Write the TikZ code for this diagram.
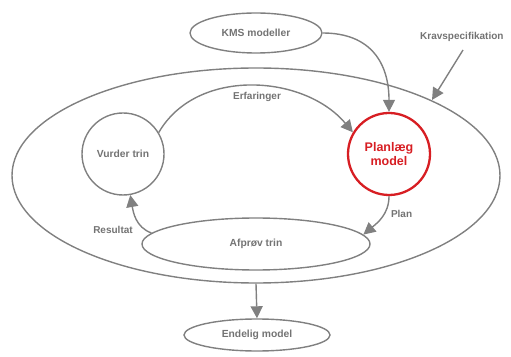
\documentclass[tikz,border=0pt]{standalone}
\usepackage{fontspec}
\setmainfont{Liberation Sans}
\usetikzlibrary{shapes.geometric,arrows.meta}
\definecolor{lgray}{RGB}{128,128,128}
\definecolor{tgray}{RGB}{115,115,115}
\definecolor{pred}{RGB}{215,30,35}
\tikzset{
  line/.style={draw=lgray, line width=1.4pt},
  oval/.style={line, ellipse, inner sep=0pt, font=\fontsize{10.3}{12}\selectfont\bfseries, text=tgray},
  circ/.style={line, circle, inner sep=0pt, minimum size=82pt, font=\fontsize{10.3}{12}\selectfont\bfseries, text=tgray},
  arr/.style={line, -{Triangle[length=12pt,width=12pt]}},
  lbl/.style={font=\fontsize{10}{12}\selectfont\bfseries, text=tgray}
}
\begin{document}
\begin{tikzpicture}[x=1pt,y=1pt]
\useasboundingbox (0,0) rectangle (511,356);
\node[oval, minimum width=488pt, minimum height=215pt] (big) at (256,180.5) {};
\node[oval, minimum width=132pt, minimum height=40pt] (kms) at (256,323) {KMS modeller};
\node[circ, draw=pred, line width=2.3pt, text=pred, font=\fontsize{12.5}{14.5}\selectfont\bfseries, align=center] (plan) at (389,202) {Planlæg\\model};
\node[circ] (vurder) at (123,202) {Vurder trin};
\node[oval, minimum width=228pt, minimum height=52pt] (afprov) at (256,112) {Afprøv trin};
\node[oval, minimum width=146pt, minimum height=32pt] (endelig) at (257,21) {Endelig model};
\node[lbl, anchor=west, inner sep=0pt] (krav) at (420,319) {Kravspecifikation};
\coordinate (kravstart) at (463,306);
\coordinate (kravtip) at (432,256);
\draw[arr] (kms.east) to[out=0,in=90,looseness=1.2] (plan.north);
\draw[arr] (kravstart) -- (kravtip);
\draw[arr] (vurder.31) to[out=60,in=130] (plan.149);
\node[lbl] (erf) at (257,259) {Erfaringer};
\draw[arr] (plan.south) to[out=-90,in=40] node[lbl, right, pos=0.4, xshift=3pt] (planlbl) {Plan} (afprov.5);
\draw[arr] (afprov.174) to[out=160,in=-80] (vurder.-80);
\node[lbl] (res) at (113,126) {Resultat};
\draw[arr] (big.south) -- (endelig.north);
\end{tikzpicture}
\end{document}
